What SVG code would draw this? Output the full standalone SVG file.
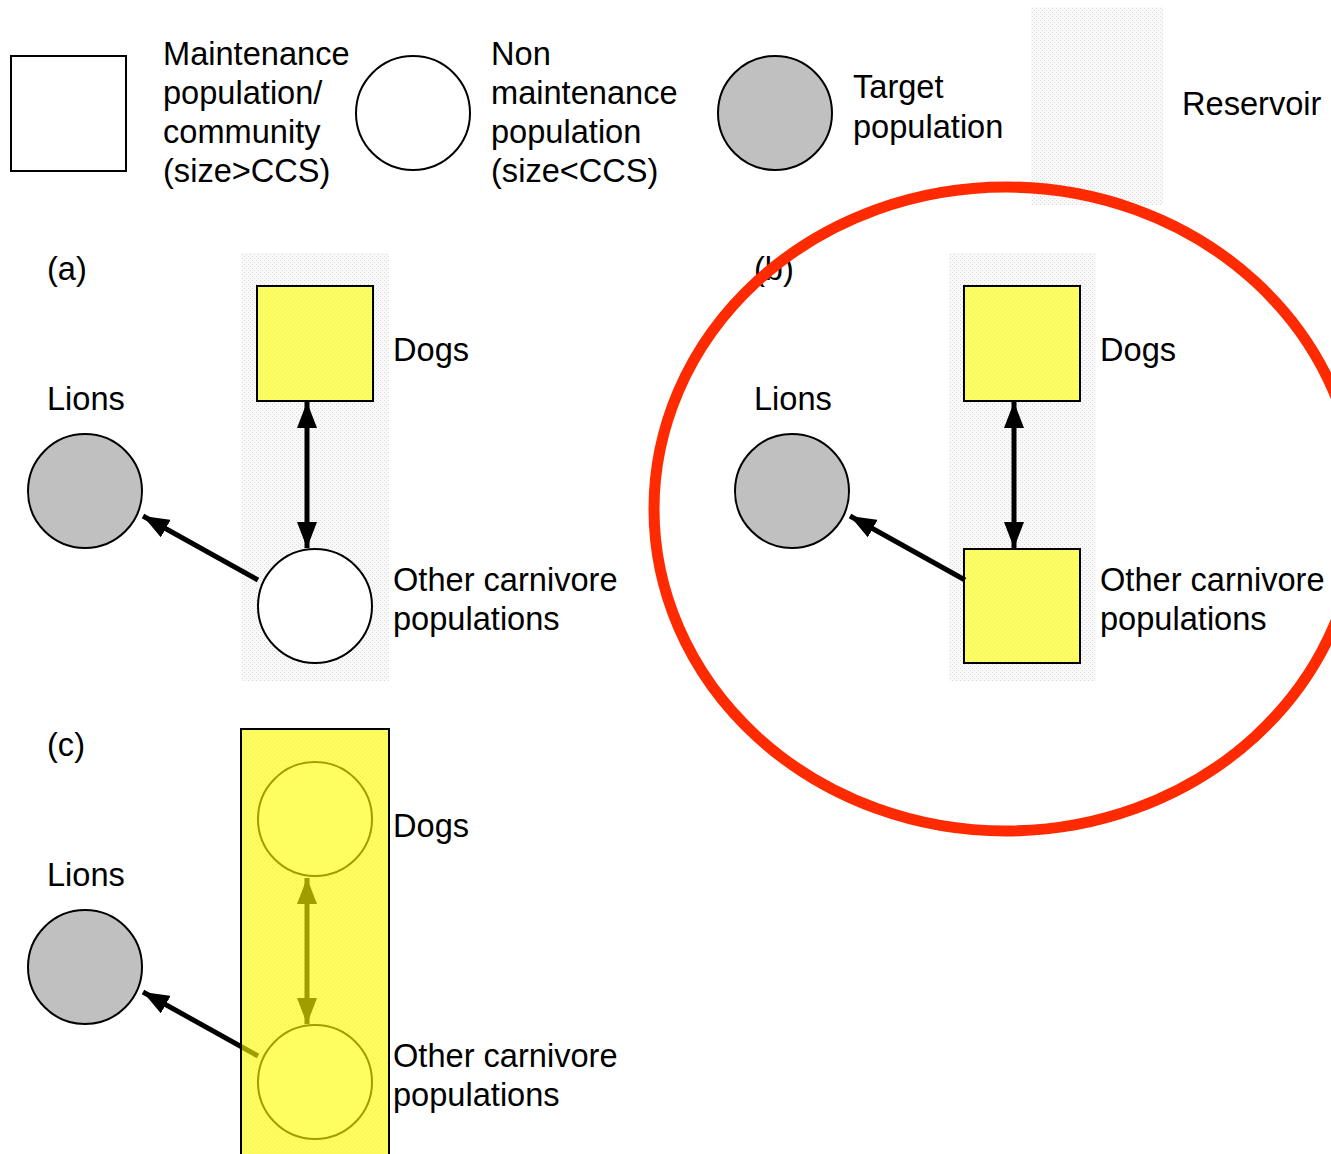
<svg xmlns="http://www.w3.org/2000/svg" width="1331" height="1154" viewBox="0 0 1331 1154">
  <defs>
    <pattern id="dots" width="4" height="4" patternUnits="userSpaceOnUse">
      <rect width="4" height="4" fill="#f9f9f9"/>
      <rect x="0" y="0" width="1" height="1" fill="#d9d9d9"/>
      <rect x="2" y="2" width="1" height="1" fill="#d9d9d9"/>
    </pattern>
    <marker id="head" viewBox="0 0 26 20" refX="26" refY="10" markerWidth="26" markerHeight="20" markerUnits="userSpaceOnUse" orient="auto-start-reverse">
      <path d="M0,0 L26,10 L0,20 Z" fill="#000"/>
    </marker>
    <style>
      text { font-family: "Liberation Sans", Arial, sans-serif; font-size: 32.6px; fill: #000; }
      .node { stroke: #000; stroke-width: 2; }
      .plain { fill: #fff; }
      .target { fill: #c0c0c0; }
      .reservoir { fill: url(#dots); stroke: none; }
      .maint { fill: #ffff00; fill-opacity: 0.6; }
      .link { stroke: #000; stroke-width: 5; fill: none; }
    </style>
  </defs>

  <!-- legend -->
  <g id="legend-maintenance">
    <rect class="node plain" x="11" y="56" width="115" height="115"/>
    <text x="163" y="65">Maintenance</text>
    <text x="163" y="104">population/</text>
    <text x="163" y="143">community</text>
    <text x="163" y="182">(size&gt;CCS)</text>
  </g>
  <g id="legend-nonmaintenance">
    <circle class="node plain" cx="413" cy="113" r="57"/>
    <text x="491" y="65">Non</text>
    <text x="491" y="104">maintenance</text>
    <text x="491" y="143">population</text>
    <text x="491" y="182">(size&lt;CCS)</text>
  </g>
  <g id="legend-target">
    <circle class="node target" cx="775" cy="113" r="57"/>
    <text x="853" y="98">Target</text>
    <text x="853" y="138">population</text>
  </g>
  <g id="legend-reservoir">
    <rect class="reservoir" x="1031" y="7" width="132" height="198"/>
    <text x="1182" y="115">Reservoir</text>
  </g>

  <!-- panel (a) -->
  <g id="panel-a">
    <text x="47" y="280">(a)</text>
    <rect class="reservoir" x="241" y="253" width="148" height="428"/>
    <g id="a-dogs">
      <rect class="node maint" x="257" y="286" width="116" height="115"/>
      <text x="393" y="361">Dogs</text>
    </g>
    <g id="a-lions">
      <text x="47" y="410">Lions</text>
      <circle class="node target" cx="85" cy="491" r="57"/>
    </g>
    <g id="a-other">
      <circle class="node plain" cx="315" cy="606" r="57"/>
      <text x="393" y="591">Other carnivore</text>
      <text x="393" y="630">populations</text>
    </g>
  </g>

  <!-- panel (b) -->
  <g id="panel-b">
    <text x="754" y="280">(b)</text>
    <rect class="reservoir" x="949" y="253" width="147" height="428"/>
    <g id="b-dogs">
      <rect class="node maint" x="964" y="286" width="116" height="115"/>
      <text x="1100" y="361">Dogs</text>
    </g>
    <g id="b-lions">
      <text x="754" y="410">Lions</text>
      <circle class="node target" cx="792" cy="491" r="57"/>
    </g>
    <g id="b-other">
      <rect class="node maint" x="964" y="549" width="116" height="114"/>
      <text x="1100" y="591">Other carnivore</text>
      <text x="1100" y="630">populations</text>
    </g>
  </g>

  <!-- panel (c) base -->
  <g id="panel-c">
    <text x="47" y="756">(c)</text>
    <rect class="reservoir" x="241" y="729" width="148" height="430"/>
    <g id="c-dogs">
      <circle class="node plain" cx="315" cy="819" r="57"/>
      <text x="393" y="837">Dogs</text>
    </g>
    <g id="c-lions">
      <text x="47" y="886">Lions</text>
      <circle class="node target" cx="85" cy="967" r="57"/>
    </g>
    <g id="c-other">
      <circle class="node plain" cx="315" cy="1082" r="57"/>
      <text x="393" y="1067">Other carnivore</text>
      <text x="393" y="1106">populations</text>
    </g>
  </g>

  <!-- connectors -->
  <g id="connectors">
    <line class="link" x1="307" y1="402" x2="307" y2="548" marker-start="url(#head)" marker-end="url(#head)"/>
    <line class="link" x1="258" y1="580" x2="143" y2="516" marker-end="url(#head)"/>
    <line class="link" x1="1014" y1="402" x2="1014" y2="548" marker-start="url(#head)" marker-end="url(#head)"/>
    <line class="link" x1="965" y1="580" x2="850" y2="516" marker-end="url(#head)"/>
    <line class="link" x1="307" y1="878" x2="307" y2="1024" marker-start="url(#head)" marker-end="url(#head)"/>
    <line class="link" x1="258" y1="1056" x2="143" y2="992" marker-end="url(#head)"/>
  </g>

  <!-- maintenance community overlay in (c) -->
  <g id="c-community">
    <rect x="241" y="729" width="148" height="440" fill="#ffff00" fill-opacity="0.62" stroke="#000" stroke-width="2"/>
  </g>

  <!-- highlight -->
  <g id="highlight">
    <ellipse cx="1006" cy="509" rx="352" ry="322" fill="none" stroke="#ff2a00" stroke-width="11"/>
  </g>
</svg>
